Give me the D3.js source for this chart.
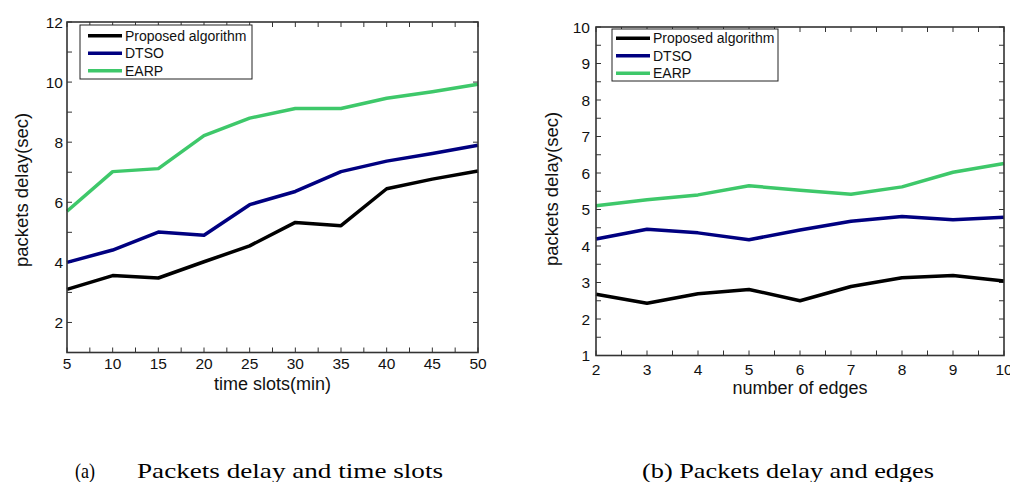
<!DOCTYPE html>
<html>
<head>
<meta charset="utf-8">
<script src="https://cdn.jsdelivr.net/npm/d3@7"></script>
<style>
  body { margin: 0; background: #fff; }
  svg { display: block; }
</style>
</head>
<body>
<svg id="fig" width="1010" height="482"></svg>
<script>
// series names and colours
const seriesNames = ["Proposed algorithm", "DTSO", "EARP"];
const seriesColors = ["#000000", "#000080", "#3ec86a"];

// (a) time slots
const timeSlots = [5, 10, 15, 20, 25, 30, 35, 40, 45, 50];
const proposedA = [3.1, 3.56, 3.48, 4.02, 4.55, 5.33, 5.22, 6.45, 6.77, 7.04];
const dtsoA = [4.0, 4.41, 5.01, 4.9, 5.92, 6.36, 7.02, 7.37, 7.62, 7.9];
const earpA = [5.7, 7.02, 7.12, 8.22, 8.8, 9.12, 9.12, 9.46, 9.68, 9.93];
const yTicksA = [2, 4, 6, 8, 10, 12];

// (b) number of edges
const edges = [2, 3, 4, 5, 6, 7, 8, 9, 10];
const proposedB = [2.68, 2.43, 2.69, 2.81, 2.5, 2.89, 3.13, 3.19, 3.04];
const dtsoB = [4.19, 4.46, 4.36, 4.17, 4.44, 4.68, 4.81, 4.72, 4.79];
const earpB = [5.1, 5.27, 5.4, 5.65, 5.53, 5.42, 5.62, 6.02, 6.26];
const yTicksB = [1, 2, 3, 4, 5, 6, 7, 8, 9, 10];

const svg = d3.select("#fig");
const sans = "Liberation Sans, Arial, sans-serif";

function drawPanel(cfg) {
  const x = d3.scaleLinear().domain(cfg.xDomain).range([cfg.left, cfg.right]);
  const y = d3.scaleLinear().domain(cfg.yDomain).range([cfg.bottom, cfg.top]);
  const g = svg.append("g");
  const frameColor = "#333";
  const tickLen = 5;

  // minor + major ticks, pointing inward on all four sides
  const xt = d3.range(cfg.xDomain[0], cfg.xDomain[1] + 1e-9, cfg.xMinor);
  const yt = d3.range(cfg.yDomain[0], cfg.yDomain[1] + 1e-9, cfg.yMinor);
  xt.forEach(v => {
    g.append("line").attr("x1", x(v)).attr("x2", x(v))
      .attr("y1", cfg.bottom).attr("y2", cfg.bottom - tickLen)
      .attr("stroke", frameColor).attr("stroke-width", 1);
    g.append("line").attr("x1", x(v)).attr("x2", x(v))
      .attr("y1", cfg.top).attr("y2", cfg.top + tickLen)
      .attr("stroke", frameColor).attr("stroke-width", 1);
  });
  yt.forEach(v => {
    g.append("line").attr("x1", cfg.left).attr("x2", cfg.left + tickLen)
      .attr("y1", y(v)).attr("y2", y(v))
      .attr("stroke", frameColor).attr("stroke-width", 1);
    g.append("line").attr("x1", cfg.right).attr("x2", cfg.right - tickLen)
      .attr("y1", y(v)).attr("y2", y(v))
      .attr("stroke", frameColor).attr("stroke-width", 1);
  });

  // tick labels
  g.selectAll(".xl").data(cfg.xLabels).enter().append("text")
    .attr("x", d => x(d)).attr("y", cfg.bottom + cfg.xLabelOff)
    .attr("text-anchor", "middle")
    .style("font-family", sans)
    .style("font-size", "15.5px").attr("fill", "#111")
    .text(d => d);
  g.selectAll(".yl").data(cfg.yLabels).enter().append("text")
    .attr("x", cfg.left - cfg.yLabelGap).attr("y", d => y(d))
    .attr("dy", "0.36em")
    .attr("text-anchor", "end")
    .style("font-family", sans)
    .style("font-size", "15.5px").attr("fill", "#111")
    .text(d => d);

  // data lines
  const line = d3.line().x((d, i) => x(cfg.xs[i])).y(d => y(d));
  cfg.series.forEach((s, k) => {
    g.append("path").datum(s)
      .attr("d", line)
      .attr("fill", "none")
      .attr("stroke", seriesColors[k])
      .attr("stroke-width", 3.5)
      .attr("stroke-linejoin", "round");
  });

  // frame
  g.append("rect")
    .attr("x", cfg.left).attr("y", cfg.top)
    .attr("width", cfg.right - cfg.left).attr("height", cfg.bottom - cfg.top)
    .attr("fill", "none").attr("stroke", frameColor).attr("stroke-width", 1.6);

  // legend
  const lg = cfg.legend;
  g.append("rect")
    .attr("x", lg.x).attr("y", lg.y).attr("width", lg.w).attr("height", lg.h)
    .attr("fill", "#fff").attr("stroke", "#222").attr("stroke-width", 1);
  seriesNames.forEach((name, k) => {
    const ly = lg.y + lg.first + k * 17.5;
    g.append("line").attr("x1", lg.x + lg.lx).attr("x2", lg.x + lg.lx + 34)
      .attr("y1", ly).attr("y2", ly)
      .attr("stroke", seriesColors[k]).attr("stroke-width", 3.5);
    g.append("text").attr("x", lg.x + lg.lx + 37).attr("y", ly + 5)
      .style("font-family", sans)
      .style("font-size", "14px").attr("fill", "#111")
      .text(name);
  });

  // axis titles
  g.append("text")
    .attr("transform", `translate(${cfg.yTitleX},${cfg.yTitleY}) rotate(-90)`)
    .attr("text-anchor", "middle")
    .style("font-family", sans)
    .style("font-size", "18.5px").attr("fill", "#111")
    .text("packets delay(sec)");
  g.append("text")
    .attr("x", (cfg.left + cfg.right) / 2).attr("y", cfg.bottom + cfg.xTitleOff)
    .attr("text-anchor", "middle")
    .style("font-family", sans)
    .style("font-size", "18px").attr("fill", "#111")
    .text(cfg.xTitle);
}

drawPanel({
  xDomain: [5, 50], yDomain: [1, 12],
  left: 67, right: 478, top: 22, bottom: 352.5,
  xMinor: 2.5, yMinor: 1,
  xLabels: timeSlots, yLabels: yTicksA,
  xLabelOff: 16, yLabelGap: 4, xTitleOff: 37.5,
  xs: timeSlots, series: [proposedA, dtsoA, earpA],
  legend: { x: 80, y: 25, w: 172, h: 54, first: 10.7, lx: 8 },
  yTitleX: 28, yTitleY: 190, xTitle: "time slots(min)"
});

drawPanel({
  xDomain: [2, 10], yDomain: [1, 10],
  left: 596, right: 1004, top: 27, bottom: 355.5,
  xMinor: 0.5, yMinor: 0.5,
  xLabels: edges, yLabels: yTicksB,
  xLabelOff: 19.5, yLabelGap: 6, xTitleOff: 38.5,
  xs: edges, series: [proposedB, dtsoB, earpB],
  legend: { x: 612, y: 29, w: 166, h: 52, first: 9.3, lx: 4 },
  yTitleX: 558, yTitleY: 189, xTitle: "number of edges"
});

// captions
const serif = "Liberation Serif, serif";
svg.append("text").attr("x", 75).attr("y", 478)
  .style("font-family", serif).style("font-size", "22px")
  .attr("textLength", 20).attr("lengthAdjust", "spacingAndGlyphs")
  .text("(a)");
svg.append("text").attr("x", 137).attr("y", 478)
  .style("font-family", serif).style("font-size", "22px")
  .attr("textLength", 306).attr("lengthAdjust", "spacingAndGlyphs")
  .text("Packets delay and time slots");
svg.append("text").attr("x", 642).attr("y", 478)
  .style("font-family", serif).style("font-size", "22px")
  .attr("textLength", 292).attr("lengthAdjust", "spacingAndGlyphs")
  .text("(b) Packets delay and edges");
</script>
</body>
</html>
